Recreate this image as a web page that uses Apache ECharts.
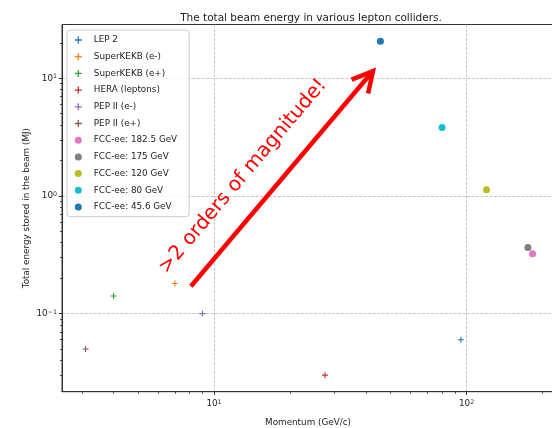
<!DOCTYPE html>
<html>
<head>
<meta charset="utf-8">
<script src="https://cdn.jsdelivr.net/npm/echarts@6/dist/echarts.min.js"></script>
<style>
html,body{margin:0;padding:0;background:#fff;}
#chart{width:552px;height:428px;}
</style>
</head>
<body>
<div id="chart"></div>
<script>
// ---- data ----
const seriesNames = ['LEP 2', 'SuperKEKB (e-)', 'SuperKEKB (e+)', 'HERA (leptons)', 'PEP II (e-)', 'PEP II (e+)',
  'FCC-ee: 182.5 GeV', 'FCC-ee: 175 GeV', 'FCC-ee: 120 GeV', 'FCC-ee: 80 GeV', 'FCC-ee: 45.6 GeV'];
const momentum = [95, 7.0, 4.0, 27.5, 9.0, 3.1, 182.5, 175, 120, 80, 45.6];     // GeV/c
const energy   = [0.060, 0.18, 0.141, 0.030, 0.100, 0.050, 0.322, 0.365, 1.13, 3.81, 20.6]; // MJ
const markerKind = ['plus','plus','plus','plus','plus','plus','dot','dot','dot','dot','dot'];
const xMajorTicks = [10, 100];
const xMinorTicks = [3, 4, 5, 6, 7, 8, 9, 20, 30, 40, 50, 60, 70, 80, 90, 200];
const yMajorTicks = [0.1, 1, 10];
const yMinorTicks = [0.03, 0.04, 0.05, 0.06, 0.07, 0.08, 0.09, 0.2, 0.3, 0.4, 0.5, 0.6, 0.7, 0.8, 0.9,
  2, 3, 4, 5, 6, 7, 8, 9, 20];
const xRange = [2.5, 222];
const yRange = [0.0217, 28.6];
const arrowFrom = [8.1, 0.171];
const arrowTo = [42.6, 11.5];
const annotationText = '>2 orders of magnitude!';
const annotationAt = [13.0, 1.47];
const titleText = 'The total beam energy in various lepton colliders.';
const xLabel = 'Momentum (GeV/c)';
const yLabel = 'Total energy stored in the beam (MJ)';

// ---- styling ----
const colors = ['#1f77b4', '#ff7f0e', '#2ca02c', '#d62728', '#9467bd', '#8c564b',
  '#e377c2', '#7f7f7f', '#bcbd22', '#17becf', '#1f77b4'];
const FONT = 'DejaVu Sans';
const PLUS = 'path://M-0.55,-3L0.55,-3L0.55,-0.55L3,-0.55L3,0.55L0.55,0.55L0.55,3L-0.55,3L-0.55,0.55L-3,0.55L-3,-0.55L-0.55,-0.55Z';

function powLabel(v) {
  const e = Math.round(Math.log10(v));
  return '{b|10}{s|' + (e < 0 ? '\u2212' + (-e) : e) + '}';
}
const labelRich = {
  b: { fontSize: 8.8, fontFamily: FONT, color: '#222', lineHeight: 11 },
  s: { fontSize: 6.3, fontFamily: FONT, color: '#222', verticalAlign: 'bottom', lineHeight: 11, padding: [0, 0, 4, 0] }
};

const chart = echarts.init(document.getElementById('chart'), null, { renderer: 'canvas' });

const series = seriesNames.map((name, i) => ({
  name: name,
  type: 'scatter',
  xAxisIndex: 0,
  yAxisIndex: 0,
  symbol: markerKind[i] === 'plus' ? PLUS : 'circle',
  symbolSize: markerKind[i] === 'plus' ? 6 : 7,
  itemStyle: { color: colors[i], opacity: 1 },
  emphasis: { disabled: true },
  data: [[momentum[i], energy[i]]],
  z: 3
}));

series.push({
  type: 'custom',
  name: 'annotation',
  xAxisIndex: 0,
  yAxisIndex: 0,
  silent: true,
  encode: { x: [0, 2, 4], y: [1, 3, 5] },
  data: [[arrowFrom[0], arrowFrom[1], arrowTo[0], arrowTo[1], annotationAt[0], annotationAt[1]]],
  clip: false,
  z: 5,
  renderItem: function (params, api) {
    const p0 = api.coord([api.value(0), api.value(1)]);
    const p1 = api.coord([api.value(2), api.value(3)]);
    const pt = api.coord([api.value(4), api.value(5)]);
    const dx = p1[0] - p0[0], dy = p1[1] - p0[1];
    const len = Math.sqrt(dx * dx + dy * dy);
    const ux = dx / len, uy = dy / len;
    const headLen = 23, headAng = 28 * Math.PI / 180;
    function wing(sign) {
      const c = Math.cos(sign * headAng), s = Math.sin(sign * headAng);
      const bx = -ux, by = -uy;
      return [p1[0] + headLen * (bx * c - by * s), p1[1] + headLen * (bx * s + by * c)];
    }
    const w1 = wing(1), w2 = wing(-1);
    const ang = Math.atan2(-dy, dx);
    return {
      type: 'group',
      children: [
        { type: 'polyline', shape: { points: [p0, p1] },
          style: { stroke: '#ff0000', lineWidth: 4.5, lineCap: 'butt', fill: null } },
        { type: 'polyline', shape: { points: [w1, p1, w2] },
          style: { stroke: '#ff0000', lineWidth: 4.5, lineJoin: 'miter', lineCap: 'butt', fill: null } },
        { type: 'text', x: pt[0], y: pt[1], rotation: ang,
          style: { text: annotationText, fill: '#ff0000', fontSize: 20, fontFamily: FONT,
            align: 'center', verticalAlign: 'middle' } }
      ]
    };
  }
});

const option = {
  animation: false,
  backgroundColor: '#ffffff',
  title: {
    text: titleText,
    left: 306, top: 7, textAlign: 'center',
    textStyle: { fontFamily: FONT, fontSize: 10.5, fontWeight: 'normal', color: '#222', lineHeight: 12 }
  },
  grid: {
    left: 62, top: 24.5, right: -2, bottom: 36.3,
    show: true, borderColor: '#333', borderWidth: 1, backgroundColor: 'transparent',
    containLabel: false, outerBoundsMode: 'none'
  },
  legend: {
    left: 67, top: 30, orient: 'vertical',
    padding: [5, 12, 4.7, 7.8],
    itemGap: 6.7, itemWidth: 7, itemHeight: 7,
    backgroundColor: 'rgba(255,255,255,0.8)',
    borderColor: '#cccccc', borderWidth: 1, borderRadius: 3,
    textStyle: { fontFamily: FONT, fontSize: 8.8, color: '#222', lineHeight: 10, padding: [0, 0, 0, 7] },
    selectedMode: false,
    data: seriesNames.map((n, i) => ({ name: n, icon: markerKind[i] === 'plus' ? PLUS : 'circle' }))
  },
  xAxis: [
    {
      type: 'log', logBase: 10, min: xRange[0], max: xRange[1],
      position: 'bottom',
      name: xLabel, nameLocation: 'middle', nameGap: 27, nameMoveOverlap: false,
      nameTextStyle: { fontFamily: FONT, fontSize: 8.8, color: '#222' },
      axisLine: { show: true, lineStyle: { color: '#333', width: 1 } },
      axisTick: { show: true, length: 3.2, customValues: xMajorTicks, lineStyle: { color: '#333', width: 1 } },
      axisLabel: { show: true, margin: 7, customValues: xMajorTicks, formatter: powLabel, rich: labelRich },
      splitLine: { show: true, lineStyle: { color: '#b8b8b8', width: 0.8, type: [3, 1.5] } },
      minorTick: { show: false }
    },
    {
      type: 'log', logBase: 10, min: xRange[0], max: xRange[1],
      position: 'bottom',
      axisLine: { show: false },
      axisTick: { show: true, length: 2, customValues: xMinorTicks, lineStyle: { color: '#333', width: 0.9 } },
      axisLabel: { show: false },
      splitLine: { show: false }
    }
  ],
  yAxis: [
    {
      type: 'log', logBase: 10, min: yRange[0], max: yRange[1],
      position: 'left',
      name: yLabel, nameLocation: 'middle', nameGap: 31, nameRotate: 90, nameMoveOverlap: false,
      nameTextStyle: { fontFamily: FONT, fontSize: 8.8, color: '#222' },
      axisLine: { show: true, lineStyle: { color: '#333', width: 1 } },
      axisTick: { show: true, length: 3.2, customValues: yMajorTicks, lineStyle: { color: '#333', width: 1 } },
      axisLabel: { show: true, margin: 5, customValues: yMajorTicks, formatter: powLabel, rich: labelRich },
      splitLine: { show: true, lineStyle: { color: '#b8b8b8', width: 0.8, type: [3, 1.5] } }
    },
    {
      type: 'log', logBase: 10, min: yRange[0], max: yRange[1],
      position: 'left',
      axisLine: { show: false },
      axisTick: { show: true, length: 2, customValues: yMinorTicks, lineStyle: { color: '#333', width: 0.9 } },
      axisLabel: { show: false },
      splitLine: { show: false }
    }
  ],
  series: series
};
chart.setOption(option);
</script>
</body>
</html>
